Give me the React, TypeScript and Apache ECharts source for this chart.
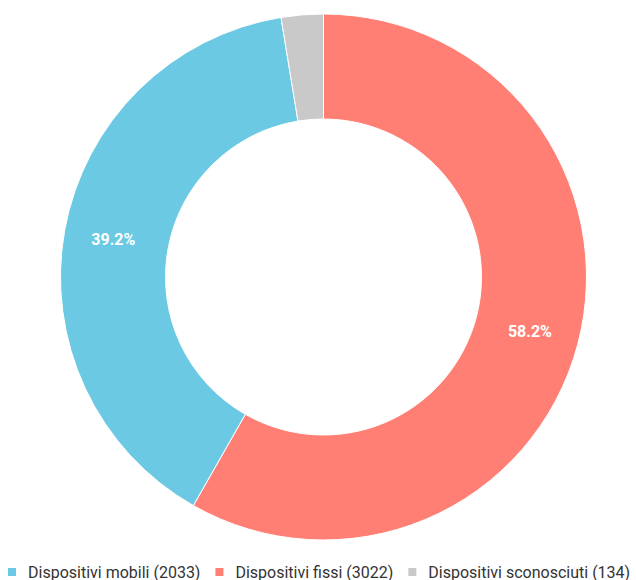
import React, { useEffect, useRef } from "react";
import * as echarts from "echarts";

const categories = ["Dispositivi fissi", "Dispositivi mobili", "Dispositivi sconosciuti"];
const values = [3022, 2033, 134];
const colors = ["#FF7F74", "#6BC9E3", "#C9C9C9"];
const legendOrder = ["Dispositivi mobili", "Dispositivi fissi", "Dispositivi sconosciuti"];

export default function App() {
  const ref = useRef<HTMLDivElement>(null);
  useEffect(() => {
    document.body.style.margin = "0";
    const chart = echarts.init(ref.current!, null, { renderer: "svg" });
    const total = values.reduce((a, b) => a + b, 0);
    chart.setOption({
      animation: false,
      legend: {
        data: legendOrder,
        left: 6,
        top: 564,
        width: 630,
        padding: 0,
        itemWidth: 10,
        itemHeight: 10,
        itemGap: 13,
        icon: "rect",
        textStyle: {
          fontFamily: "Roboto",
          fontSize: 16,
          color: "#333333",
          padding: [0, 0, 0, 6],
        },
        formatter: (name: string) => {
          const i = categories.indexOf(name);
          return `${name} (${values[i]})`;
        },
      },
      series: [
        {
          type: "pie",
          center: [323.5, 277],
          radius: [158, 263],
          startAngle: 90,
          clockwise: true,
          avoidLabelOverlap: false,
          itemStyle: { borderColor: "#ffffff", borderWidth: 1 },
          label: {
            show: true,
            position: "inside",
            color: "#ffffff",
            fontFamily: "Roboto",
            fontWeight: "bold",
            fontSize: 16,
            formatter: (p: any) => {
              const pct = (p.value / total) * 100;
              return pct < 5 ? "" : pct.toFixed(1) + "%";
            },
          },
          labelLine: { show: false },
          emphasis: { disabled: true },
          data: categories.map((c, i) => ({
            name: c,
            value: values[i],
            itemStyle: { color: colors[i] },
          })),
        },
      ],
    });
    return () => chart.dispose();
  }, []);
  return <div ref={ref} style={{ width: 636, height: 580 }} />;
}
